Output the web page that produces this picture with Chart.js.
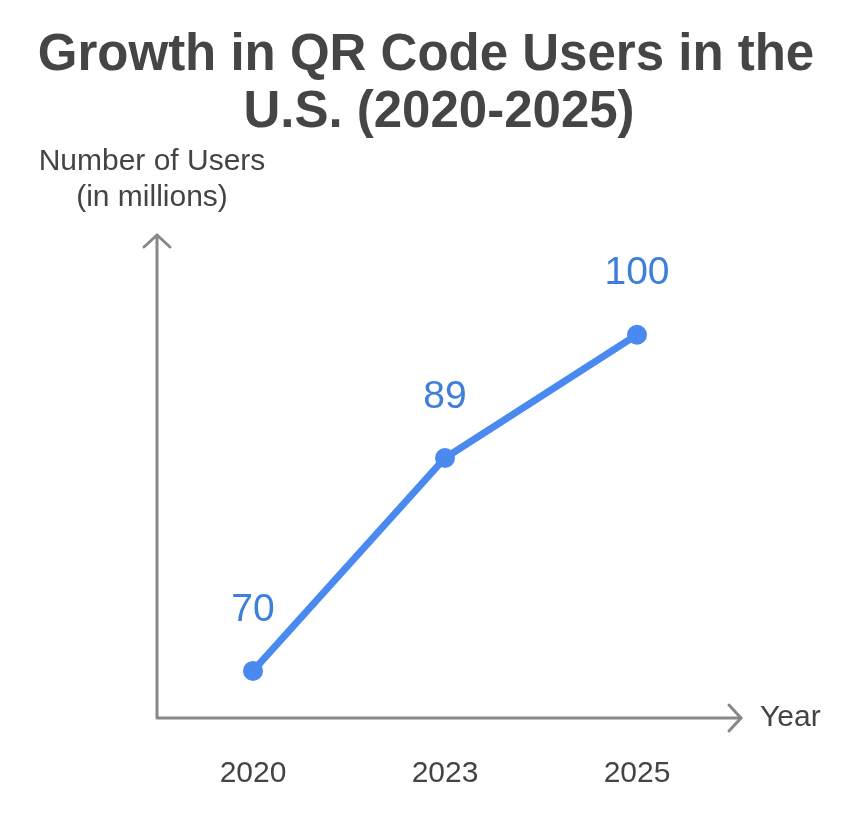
<!DOCTYPE html>
<html>
<head>
<meta charset="utf-8">
<script src="https://cdn.jsdelivr.net/npm/chart.js@4/dist/chart.umd.min.js"></script>
<style>
  html, body { margin: 0; padding: 0; background: #fff; }
  #wrap { width: 864px; height: 824px; }
</style>
</head>
<body>
<div id="wrap"><canvas id="chart" width="864" height="824"></canvas></div>
<script>
const years = ['2020', '2023', '2025'];
const users = [70, 89, 100];
const titleLines = ['Growth in QR Code Users in the', 'U.S. (2020-2025)'];
const yAxisLabel = ['Number of Users', '(in millions)'];
const xAxisLabel = 'Year';

const FONT = '"Liberation Sans", Arial, Helvetica, sans-serif';
const AXIS_COLOR = '#888888';
const TEXT_COLOR = '#444444';

// draws title, arrows, axis labels and the value labels
const decorations = {
    id: 'decorations',
    afterDraw(chart) {
        const ctx = chart.ctx;
        const area = chart.chartArea;
        const xs = chart.scales.x;
        ctx.save();

        ctx.fillStyle = '#454545';
        ctx.font = 'bold 51px ' + FONT;
        ctx.textAlign = 'center';
        ctx.textBaseline = 'middle';
        ctx.fillText(titleLines[0], 426, 56);
        ctx.fillText(titleLines[1], 439, 113);

        // axes
        ctx.strokeStyle = AXIS_COLOR;
        ctx.lineWidth = 3;
        ctx.lineCap = 'round';
        ctx.lineJoin = 'round';
        ctx.beginPath();
        ctx.moveTo(area.left, area.top);
        ctx.lineTo(area.left, area.bottom);
        ctx.lineTo(area.right + 8, area.bottom);
        ctx.stroke();
        ctx.beginPath();
        ctx.moveTo(area.left - 13, area.top + 12);
        ctx.lineTo(area.left, area.top);
        ctx.lineTo(area.left + 13, area.top + 12);
        ctx.stroke();
        ctx.beginPath();
        ctx.moveTo(area.right - 4, area.bottom - 13);
        ctx.lineTo(area.right + 8, area.bottom);
        ctx.lineTo(area.right - 4, area.bottom + 13);
        ctx.stroke();

        ctx.fillStyle = TEXT_COLOR;
        ctx.font = '30px ' + FONT;
        ctx.fillText(yAxisLabel[0], 152, 162);
        ctx.fillText(yAxisLabel[1], 152, 198);
        ctx.textAlign = 'left';
        ctx.fillText(xAxisLabel, 760, area.bottom);

        ctx.textAlign = 'center';
        years.forEach(function (y, i) {
            ctx.fillText(y, xs.getPixelForValue(i), 774);
        });

        // value labels
        const meta = chart.getDatasetMeta(0);
        ctx.fillStyle = '#3f7fdc';
        ctx.font = '39px ' + FONT;
        meta.data.forEach(function (pt, i) {
            ctx.fillText(String(users[i]), pt.x, pt.y - 61);
        });
        ctx.restore();
    }
};

new Chart(document.getElementById('chart'), {
    type: 'line',
    data: {
        labels: years,
        datasets: [{
            data: users,
            borderColor: '#4a8af0',
            backgroundColor: '#4a8af0',
            borderWidth: 7,
            pointRadius: 10,
            pointHoverRadius: 10,
            pointBorderWidth: 0,
            tension: 0
        }]
    },
    options: {
        responsive: false,
        animation: false,
        layout: { padding: { left: 157, right: 131, top: 235, bottom: 106 } },
        plugins: { legend: { display: false }, tooltip: { enabled: false }, title: { display: false } },
        scales: {
            x: { type: 'category', offset: true, display: false },
            y: { min: 65.8, max: 108.9, display: false }
        }
    },
    plugins: [decorations]
});
</script>
</body>
</html>
